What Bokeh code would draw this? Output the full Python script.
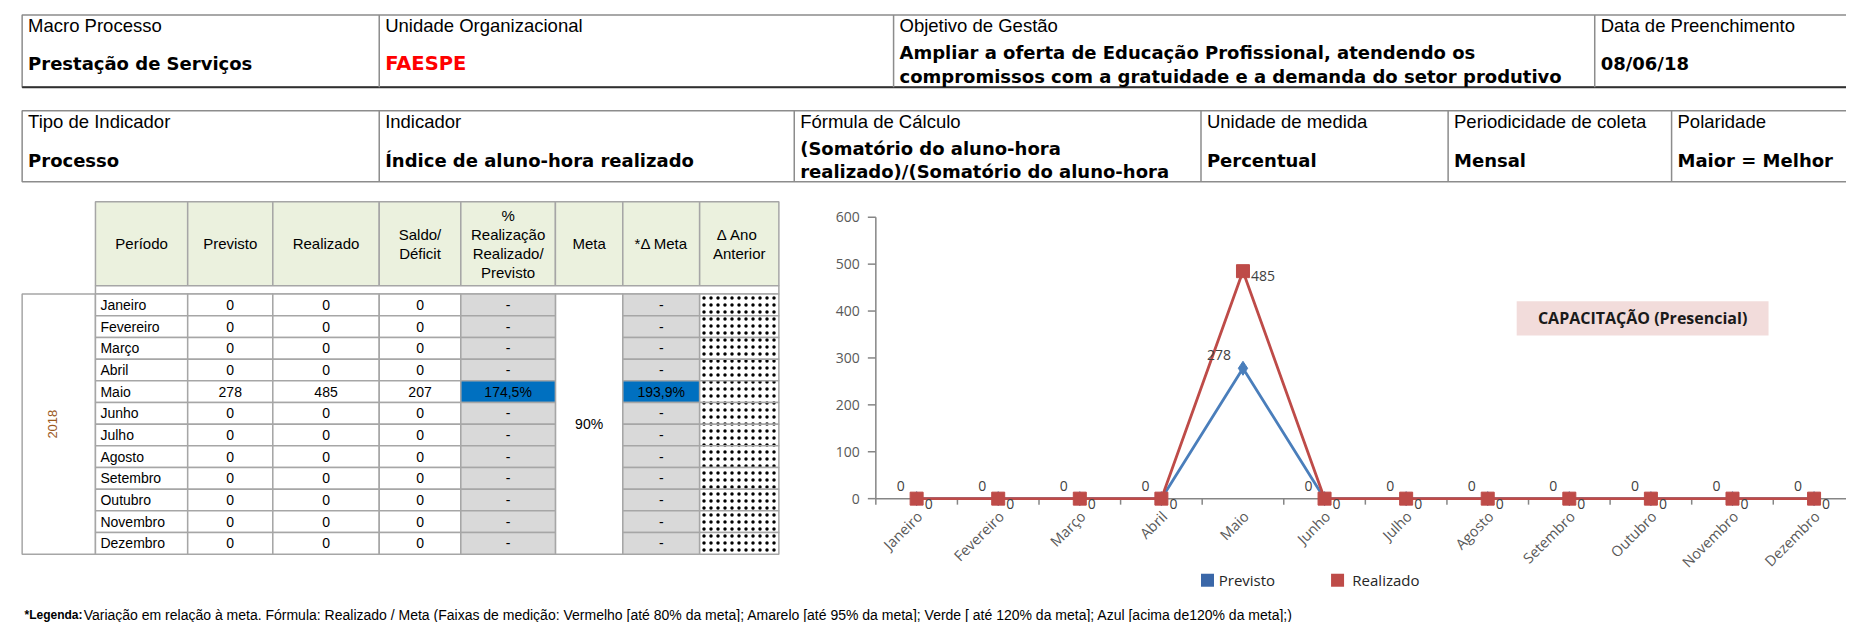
import math
from bokeh.plotting import figure
from bokeh.models import Range1d, ColumnDataSource, LabelSet, Label
from bokeh.core.properties import value
from bokeh.embed import file_html
from bokeh.resources import INLINE

# ---------------- data ----------------
months = ["Janeiro", "Fevereiro", "Março", "Abril", "Maio", "Junho", "Julho",
          "Agosto", "Setembro", "Outubro", "Novembro", "Dezembro"]
previsto = [0, 0, 0, 0, 278, 0, 0, 0, 0, 0, 0, 0]
realizado = [0, 0, 0, 0, 485, 0, 0, 0, 0, 0, 0, 0]
saldo = [0, 0, 0, 0, 207, 0, 0, 0, 0, 0, 0, 0]
pct_realizacao = ["-", "-", "-", "-", "174,5%", "-", "-", "-", "-", "-", "-", "-"]
delta_meta = ["-", "-", "-", "-", "193,9%", "-", "-", "-", "-", "-", "-", "-"]
meta = "90%"
ano = "2018"
y_ticks = [0, 100, 200, 300, 400, 500, 600]
chart_title = "CAPACITAÇÃO (Presencial)"
series_names = ["Previsto", "Realizado"]

top1_labels = ["Macro Processo", "Unidade Organizacional", "Objetivo de Gestão", "Data de Preenchimento"]
top1_values = ["Prestação de Serviços", "FAESPE", None, "08/06/18"]
objetivo_lines = ["Ampliar a oferta de Educação Profissional, atendendo os",
                  "compromissos com a gratuidade e a demanda do setor produtivo"]
top2_labels = ["Tipo de Indicador", "Indicador", "Fórmula  de Cálculo", "Unidade de medida",
               "Periodicidade de coleta", "Polaridade"]
top2_values = ["Processo", "Índice de aluno-hora realizado", None, "Percentual", "Mensal", "Maior = Melhor"]
formula_lines = ["(Somatório do aluno-hora", "realizado)/(Somatório do aluno-hora"]
table_headers = [["Período"], ["Previsto"], ["Realizado"], ["Saldo/", "Déficit"],
                 ["%", "Realização", "Realizado/", "Previsto"], ["Meta"], ["*Δ Meta"],
                 ["Δ  Ano", "Anterior"]]
legenda_bold = "*Legenda:"
legenda_text = ("Variação em relação à meta. Fórmula: Realizado / Meta (Faixas de medição: "
                "Vermelho [até 80% da meta]; Amarelo [até 95% da meta]; Verde [ até 120% da meta]; "
                "Azul [acima de120% da meta];)")

# ---------------- helpers ----------------
S = 1854 / 1568.0
OFF = 2
W, H = 1846, 622


def R(d):
    return d * S


def P(d):
    return R(d) - OFF


p = figure(width=W, height=H, x_range=Range1d(0, W), y_range=Range1d(H, 0),
           x_axis_type=None, y_axis_type=None, output_backend="svg",
           toolbar_location=None, min_border=0)
p.outline_line_color = None

# chart scales (extra ranges mapped onto the chart area of the page)
step = R(69)
zero_x = P(742)
zero_y = P(423)
k = (R(423) - R(185)) / 600.0
p.extra_x_ranges = {"cx": Range1d(-zero_x / step, (W - zero_x) / step)}
p.extra_y_ranges = {"cy": Range1d(-(H - zero_y) / k, zero_y / k)}
CR = dict(x_range_name="cx", y_range_name="cy")


def txt(x, y, s, size, font="Liberation Sans", bold=False, color="black", align="left"):
    xs_ = x if isinstance(x, list) else [x]
    ys_ = y if isinstance(y, list) else [y]
    ss_ = s if isinstance(s, list) else [s]
    p.text(x=xs_, y=ys_, text=ss_, text_font=value(font), text_font_size=f"{size}px",
           text_font_style="bold" if bold else "normal", text_color=color,
           text_align=align, text_baseline="middle")


LBL_FONT = "Liberation Sans"
VAL_FONT = "DejaVu Sans"
BORDER = "#8C8C8C"
LS, VS = 18.5, 18

# ---------------- top header tables ----------------
RIGHT = W + 5
t1_top, t1_bot = P(14), P(75)
t2_top, t2_bot = P(95), P(155)
p.quad(left=[P(20), P(20)], right=[RIGHT, RIGHT], top=[t1_top, t2_top],
       bottom=[t1_bot, t2_bot], fill_color=None, line_color=BORDER, line_width=1.5)
p.segment(x0=[P(20)], y0=[t1_bot], x1=[RIGHT], y1=[t1_bot], line_color="#303030", line_width=2)
d1 = [322, 757, 1350]
d2 = [322, 673, 1017, 1226, 1415]
p.segment(x0=[P(d) for d in d1 + d2], y0=[t1_top] * len(d1) + [t2_top] * len(d2),
          x1=[P(d) for d in d1 + d2], y1=[t1_bot] * len(d1) + [t2_bot] * len(d2),
          line_color=BORDER, line_width=1.5)

t1_x = [25, 327, 762, 1355]
t2_x = [25, 327, 678, 1022, 1231, 1420]
txt([P(d) for d in t1_x + t2_x], [P(23)] * len(t1_x) + [P(104)] * len(t2_x),
    top1_labels + top2_labels, LS, LBL_FONT)
vx, vy, vs = [], [], []
for d, v in zip(t1_x, top1_values):
    if v is not None and v != "FAESPE":
        vx.append(P(d)); vy.append(P(55)); vs.append(v)
for i, line in enumerate(objetivo_lines):
    vx.append(P(762)); vy.append(P(46 + 20 * i)); vs.append(line)
for d, v in zip(t2_x, top2_values):
    if v is not None:
        vx.append(P(d)); vy.append(P(137)); vs.append(v)
for i, line in enumerate(formula_lines):
    vx.append(P(678)); vy.append(P(127 + 19 * i)); vs.append(line)
txt(vx, vy, vs, VS, VAL_FONT, bold=True)
txt(P(327), P(55), top1_values[1], 19.5, VAL_FONT, bold=True, color="#FF0000")

# ---------------- data table ----------------
X = [P(d) for d in [20, 82, 160, 232, 322, 391, 471, 528, 593, 660]]
HT, HB, GB, RB = P(172), P(243), P(250), P(470)
rh = (RB - GB) / 12
GRID = "#A6A6A6"
TF = 14

p.quad(left=X[1:9], right=X[2:10], top=[HT] * 8, bottom=[HB] * 8,
       fill_color="#EBF1DE", line_color=GRID, line_width=1.5)
p.quad(left=[X[1], X[0], X[6]], right=[X[9], X[1], X[7]], top=[HB, GB, GB],
       bottom=[GB, RB, RB], fill_color="white", line_color=GRID, line_width=1.5)
row_tops = [GB + i * rh for i in range(12)]
row_bots = [t + rh for t in row_tops]
row_mid = [t + rh / 2 for t in row_tops]
cl, cr, ct, cb, cf = [], [], [], [], []
for j, fills in [(1, ["white"] * 12), (2, ["white"] * 12), (3, ["white"] * 12), (4, ["white"] * 12),
                 (5, ["#D9D9D9" if v == "-" else "#0070C0" for v in pct_realizacao]),
                 (7, ["#D9D9D9" if v == "-" else "#0070C0" for v in delta_meta])]:
    cl += [X[j]] * 12; cr += [X[j + 1]] * 12; ct += row_tops; cb += row_bots; cf += fills
p.quad(left=cl, right=cr, top=ct, bottom=cb, fill_color=cf, line_color=GRID, line_width=1.5)
p.quad(left=[X[8]] * 12, right=[X[9]] * 12, top=row_tops, bottom=row_bots,
       fill_color="white", line_color=GRID, line_width=1.5,
       hatch_pattern="dot", hatch_color="black", hatch_scale=7, hatch_weight=1)

line_h = R(16)
hx, hy, hs = [], [], []
for j, lines in enumerate(table_headers):
    cxm = (X[j + 1] + X[j + 2]) / 2
    cym = (HT + HB) / 2
    n = len(lines)
    for kk, s in enumerate(lines):
        hx.append(cxm); hy.append(cym + (kk - (n - 1) / 2) * line_h); hs.append(s)
txt(hx, hy, hs, 15, LBL_FONT, align="center")
txt([X[1] + 5] * 12, row_mid, months, TF, LBL_FONT)
mx, my, ms = [], [], []
for j, vals in [(2, [str(v) for v in previsto]), (3, [str(v) for v in realizado]),
                (4, [str(v) for v in saldo]), (5, pct_realizacao), (7, delta_meta)]:
    mx += [(X[j] + X[j + 1]) / 2] * 12; my += row_mid; ms += vals
mx.append((X[6] + X[7]) / 2); my.append((GB + RB) / 2); ms.append(meta)
txt(mx, my, ms, TF, LBL_FONT, align="center")
p.add_layout(Label(x=(X[0] + X[1]) / 2 - 6, y=(GB + RB) / 2, text=ano, angle=math.pi / 2,
                   text_align="center", text_baseline="middle", text_font=LBL_FONT,
                   text_font_size="13px", text_color="#9C5A1E"))

# ---------------- chart ----------------
CF = "Open Sans"
AX = "#868686"
xs = [i + 0.5 for i in range(len(months))]
bounds = list(range(len(months) + 1))

# axes
p.segment(x0=[0, 0], y0=[0, 0], x1=[0, bounds[-1]], y1=[y_ticks[-1], 0],
          line_color=AX, line_width=1.5, **CR)
p.segment(x0=[0] * len(y_ticks), y0=y_ticks, x1=[-8 / step] * len(y_ticks), y1=y_ticks,
          line_color=AX, line_width=1.5, **CR)
p.segment(x0=bounds, y0=[0] * len(bounds), x1=bounds, y1=[-6 / k] * len(bounds),
          line_color=AX, line_width=1.5, **CR)
ysrc = ColumnDataSource(dict(x=[0] * len(y_ticks), y=y_ticks, t=[str(v) for v in y_ticks]))
p.add_layout(LabelSet(x="x", y="y", text="t", source=ysrc, x_offset=-16, y_offset=0,
                      text_align="right", text_baseline="middle", text_font=value(CF),
                      text_font_size="14px", text_color="#595959", **CR))
xsrc = ColumnDataSource(dict(x=xs, y=[0] * len(xs), t=months))
p.add_layout(LabelSet(x="x", y="y", text="t", source=xsrc, x_offset=3, y_offset=-15,
                      angle=math.pi / 4, text_align="right", text_baseline="middle",
                      text_font=value(CF), text_font_size="14.5px", text_color="#595959", **CR))

BLUE = "#4A7EBB"
RED = "#BE4B48"
p.line(xs, previsto, line_color=BLUE, line_width=2.8, **CR)
p.scatter(xs, previsto, marker="diamond", size=14, color=BLUE, **CR)
p.line(xs, realizado, line_color=RED, line_width=2.8, **CR)
p.scatter(xs, realizado, marker="square", size=13, color=RED, **CR)

src = ColumnDataSource(dict(x=xs, prev=previsto, real=realizado,
                            prev_txt=[str(v) for v in previsto],
                            real_txt=[str(v) for v in realizado]))
p.add_layout(LabelSet(x="x", y="prev", text="prev_txt", source=src, x_offset=-12, y_offset=13,
                      text_align="right", text_baseline="middle", text_font=value(CF),
                      text_font_size="14px", text_color="#404040", **CR))
p.add_layout(LabelSet(x="x", y="real", text="real_txt", source=src, x_offset=8, y_offset=-5,
                      text_align="left", text_baseline="middle", text_font=value(CF),
                      text_font_size="14px", text_color="#404040", **CR))

# chart title box
p.quad(left=[P(1284)], right=[P(1497)], top=[P(256)], bottom=[P(285)],
       fill_color="#F2DCDB", line_color=None)
txt((P(1284) + P(1497)) / 2, (P(256) + P(285)) / 2, chart_title, 16, CF, bold=True,
    color="#1A1A1A", align="center")

# legend
ly = P(492)
sq = 6.5
p.quad(left=[P(1017), P(1127)], right=[P(1017) + 2 * sq, P(1127) + 2 * sq],
       top=[ly - sq, ly - sq], bottom=[ly + sq, ly + sq], fill_color=["#3A67A8", RED],
       line_color=None)
txt([P(1032), P(1145)], [ly, ly], series_names, 15, CF, color="#262626")

# ---------------- footer ----------------
fy = P(521)
txt(P(22), fy, legenda_bold, 12, LBL_FONT, bold=True)
txt(P(72), fy, legenda_text, 14, LBL_FONT)

open("out.html", "w").write(file_html(p, INLINE))
